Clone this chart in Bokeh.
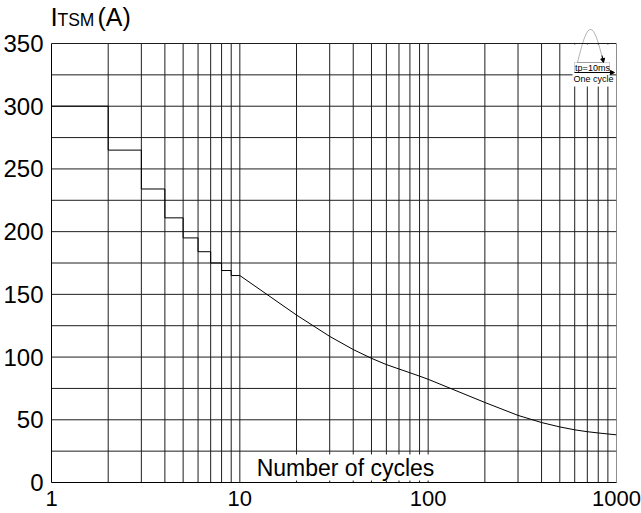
import numpy as np
from bokeh.plotting import figure
from bokeh.models import (FixedTicker, Label, Arrow, NormalHead, BoxAnnotation,
                          PolyAnnotation)
from bokeh.embed import file_html
from bokeh.resources import INLINE

# ---- data ----
step_cycles = [1, 2, 3, 4, 5, 6, 7, 8, 9, 10]
step_itsm = [300, 265, 234, 211, 195, 184, 175, 169, 165, 165]

decay_cycles = [10, 20, 30, 40, 50, 60, 70, 80, 90, 100, 200, 300, 400, 500, 600, 700, 800, 900, 1000]
decay_itsm = [165, 133.5, 116.5, 106, 99, 94, 90.5, 87.5, 84.8, 82.3, 63.8, 53.5, 47.8, 44.3, 42, 40.5, 39.5, 38.7, 38]

x_major_ticks = [1, 10, 100, 1000]
x_tick_labels = ["1", "10", "100", "1000"]
x_minor_ticks = [2, 3, 4, 5, 6, 7, 8, 9, 20, 30, 40, 50, 60, 70, 80, 90,
                 200, 300, 400, 500, 600, 700, 800, 900]
y_major_ticks = [0, 50, 100, 150, 200, 250, 300, 350]
y_minor_ticks = [25, 75, 125, 175, 225, 275, 325]
x_min, x_max = 1, 1000
y_max = 350

FONT = "Liberation Sans"
GRID = "#1e1e1e"

# layout (pixels): the frame runs to the top of the page so that the title and
# the inset can be drawn as real text; the grid itself stops at y_max.
FRAME_H = 482          # frame height
GRID_H = 439           # pixel height of the 0..y_max grid
y_top = y_max * FRAME_H / GRID_H

p = figure(width=641, height=513, x_axis_type="log", x_range=(x_min, x_max), y_range=(0, y_top),
           output_backend="svg", toolbar_location=None, tools="", margin=0,
           min_border_left=49, min_border_right=25, min_border_top=0, min_border_bottom=31)
p.background_fill_color = "white"
p.border_fill_color = "white"
p.outline_line_color = None
p.xgrid.visible = False
p.ygrid.visible = False

p.xaxis.ticker = FixedTicker(ticks=x_major_ticks, minor_ticks=x_minor_ticks)
p.yaxis.ticker = FixedTicker(ticks=y_major_ticks, minor_ticks=y_minor_ticks)
p.xaxis.major_label_overrides = {t: l for t, l in zip(x_major_ticks, x_tick_labels)}
p.yaxis.bounds = (0, y_max)

for ax in (p.xaxis[0], p.yaxis[0]):
    ax.axis_line_color = "black"
    ax.major_tick_line_color = None
    ax.minor_tick_line_color = None
    ax.major_label_text_font = FONT
    ax.major_label_text_color = "black"
p.xaxis.major_label_text_font_size = "22px"
p.yaxis.major_label_text_font_size = "24px"
p.xaxis.major_label_standoff = 2
p.yaxis.major_label_standoff = 2

# ---- grid lines from the tick arrays, stopping at y_max ----
x_grid = x_major_ticks + x_minor_ticks
y_grid = y_major_ticks + y_minor_ticks
p.segment(x0=x_grid, y0=[0] * len(x_grid), x1=x_grid, y1=[y_max] * len(x_grid),
          line_color=GRID, line_width=1)
p.segment(x0=[x_min] * len(y_grid), y0=y_grid, x1=[x_max] * len(y_grid), y1=y_grid,
          line_color=GRID, line_width=1)

# ---- curve ----
p.step(step_cycles, step_itsm, mode="after", line_color="black", line_width=1)
p.line(decay_cycles, decay_itsm, line_color="black", line_width=1)

# ---- x-axis title inside the plot, on white ----
p.add_layout(Label(x=294, y=15, x_units="screen", y_units="screen", text="Number of cycles",
                   text_font=FONT, text_font_size="23px", text_color="black",
                   text_align="center", text_baseline="middle",
                   background_fill_color="white", padding=(8, 0)))

# ---- y-axis title (top left) ----
p.add_layout(Label(x=-1, y=FRAME_H - 16, x_units="screen", y_units="screen", text="I",
                   text_font=FONT, text_font_size="26px", text_color="black",
                   text_baseline="middle"))
p.add_layout(Label(x=6, y=FRAME_H - 19.5, x_units="screen", y_units="screen", text="TSM",
                   text_font=FONT, text_font_size="17.5px", text_color="black",
                   text_baseline="middle"))
p.add_layout(Label(x=46, y=FRAME_H - 16.5, x_units="screen", y_units="screen", text="(A)",
                   text_font=FONT, text_font_size="25px", text_color="black",
                   text_baseline="middle"))

# ---- inset: one-cycle half-sine pictogram (top right) ----
p.add_layout(BoxAnnotation(left=521, right=558, top=GRID_H - 1, bottom=GRID_H - 43,
                           left_units="screen", right_units="screen",
                           top_units="screen", bottom_units="screen",
                           fill_color="white", fill_alpha=1, line_alpha=0,
                           line_dash="solid"))
t = np.linspace(0, np.pi, 40)
arc_x = list(526 + 26 * t / np.pi)
arc_y = list(GRID_H - 19 + 33 * np.sin(t))
p.add_layout(PolyAnnotation(xs=arc_x, ys=arc_y, xs_units="screen", ys_units="screen",
                            fill_alpha=0, line_color="black", line_width=1))
p.add_layout(Arrow(x_start=550.5, y_start=GRID_H - 12, x_end=552, y_end=GRID_H - 19,
                   start_units="screen", end_units="screen", line_color="black", line_width=1,
                   end=NormalHead(size=4, fill_color="black", line_color="black")))
p.add_layout(BoxAnnotation(left=523, right=558, top=GRID_H - 19, bottom=GRID_H - 29,
                           left_units="screen", right_units="screen",
                           top_units="screen", bottom_units="screen",
                           fill_alpha=0, line_color="#666666", line_width=1,
                           line_dash="solid"))
p.add_layout(Label(x=541, y=GRID_H - 24, x_units="screen", y_units="screen", text="tp=10ms",
                   text_font=FONT, text_font_size="9px", text_color="black",
                   text_align="center", text_baseline="middle"))
p.add_layout(Arrow(x_start=523, y_start=GRID_H - 29, x_end=563, y_end=GRID_H - 29,
                   start_units="screen", end_units="screen", line_color="black", line_width=1,
                   end=NormalHead(size=4, fill_color="black", line_color="black")))
p.add_layout(Label(x=542, y=GRID_H - 35, x_units="screen", y_units="screen", text="One cycle",
                   text_font=FONT, text_font_size="9px", text_color="black",
                   text_align="center", text_baseline="middle"))

open("out.html", "w").write(file_html(p, INLINE))
